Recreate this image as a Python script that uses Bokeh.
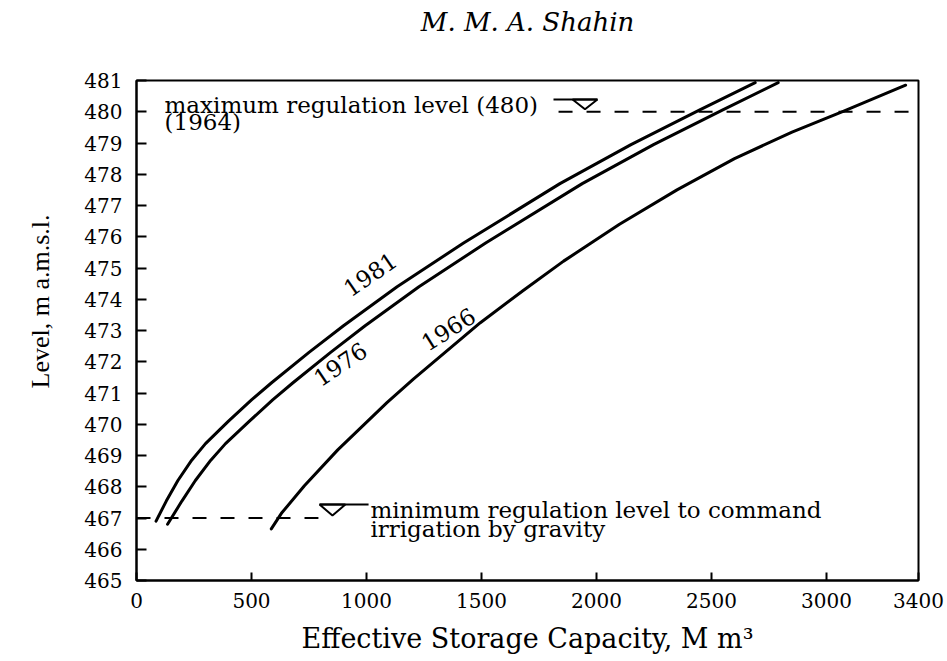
from bokeh.plotting import figure
from bokeh.models import FixedTicker, Label, Range1d, Title
from bokeh.embed import file_html
from bokeh.resources import INLINE

# Level-capacity curves of the reservoir (capacity in M m3, level in m a.m.s.l.)
cap_1981 = [85, 130, 180, 240, 300, 400, 500, 586, 750, 900, 1133, 1422, 1841, 2150, 2447, 2690]
lvl_1981 = [466.9, 467.55, 468.2, 468.85, 469.38, 470.1, 470.78, 471.32, 472.3, 473.15, 474.4, 475.8, 477.7, 478.95, 480.05, 480.93]

cap_1976 = [135, 198, 256, 323, 387, 491, 592, 679, 844, 994, 1228, 1518, 1938, 2248, 2547, 2790]
lvl_1976 = [466.8, 467.55, 468.2, 468.85, 469.38, 470.1, 470.78, 471.32, 472.3, 473.15, 474.4, 475.8, 477.7, 478.95, 480.05, 480.93]

cap_1966 = [586, 630, 730, 875, 1090, 1205, 1495, 1680, 1857, 2100, 2350, 2600, 2850, 3075, 3344]
lvl_1966 = [466.65, 467.15, 468.03, 469.18, 470.7, 471.45, 473.25, 474.27, 475.22, 476.4, 477.5, 478.5, 479.35, 480.02, 480.85]

x_ticks = [0, 500, 1000, 1500, 2000, 2500, 3000, 3400]
y_ticks = list(range(465, 482))

max_level = 480   # maximum regulation level
min_level = 467   # minimum regulation level for gravity irrigation

X_MAX = 3400
Y_MIN, Y_MAX = 465, 481

SERIF = "DejaVu Serif"
TIMES = "Liberation Serif"

p = figure(
    width=947, height=661,
    x_range=Range1d(0, X_MAX), y_range=Range1d(Y_MIN, Y_MAX),
    output_backend="svg", toolbar_location=None,
    min_border_left=136, min_border_right=29,
    min_border_top=80, min_border_bottom=81,
)
p.background_fill_color = "white"
p.border_fill_color = "white"
p.xgrid.visible = False
p.ygrid.visible = False
p.outline_line_color = "black"
p.outline_line_width = 2

# x axis
xa = p.xaxis[0]
xa.ticker = FixedTicker(ticks=x_ticks)
xa.axis_label = "Effective Storage Capacity, M m\u00b3"
xa.axis_label_text_font = SERIF
xa.axis_label_text_font_size = "27px"
xa.axis_label_text_font_style = "normal"
xa.axis_label_text_color = "black"
xa.axis_label_standoff = 12

# y axis
ya = p.yaxis[0]
ya.ticker = FixedTicker(ticks=y_ticks)

for ax in (xa, ya):
    ax.axis_line_color = "black"
    ax.axis_line_width = 2
    ax.major_tick_line_color = "black"
    ax.major_tick_line_width = 2
    ax.major_tick_out = 0
    ax.minor_tick_line_color = None
    ax.major_label_text_font = SERIF
    ax.major_label_text_font_size = "20px"
    ax.major_label_text_color = "black"

xa.major_tick_in = 8
xa.major_label_standoff = 12
ya.major_tick_in = 10
ya.major_label_standoff = 14

# y axis title, placed as a side title so it can sit off-centre
p.add_layout(Title(text="Level, m a.m.s.l.", align="left", offset=192,
                   vertical_align="top",
                   text_font=TIMES, text_font_size="26px", text_font_style="normal",
                   text_color="black", standoff=50), "left")

# page heading, lifted to the top edge by a blank spacer title below it
p.add_layout(Title(text=" ", text_font_size="10px", standoff=25), "above")
p.add_layout(Title(text="M. M. A. Shahin", align="center", vertical_align="top",
                   text_font=SERIF, text_font_size="26px", text_font_style="italic",
                   text_color="black", standoff=8), "above")

# curves
for cap, lvl in ((cap_1981, lvl_1981), (cap_1976, lvl_1976), (cap_1966, lvl_1966)):
    p.line(cap, lvl, line_color="black", line_width=3, line_join="round", line_cap="round")

# regulation levels
max_dash_start = 1835
min_dash_end = 791
p.line([max_dash_start, X_MAX], [max_level, max_level], line_color="black",
       line_width=2, line_dash="14 14")
p.line([0, min_dash_end], [min_level, min_level], line_color="black",
       line_width=2, line_dash="14 14")

# water-level symbols (flat inverted triangle with a leader line)
def water_symbol(xc, level, half_w, top_off, apex_off, lead_from, lead_to):
    top = level + top_off
    apex = level + apex_off
    p.patch([xc - half_w, xc + half_w, xc], [top, top, apex],
            fill_color="white", line_color="black", line_width=2)
    p.line([lead_from, lead_to], [top, top], line_color="black", line_width=2)

water_symbol(1950, max_level, 54, 0.39, 0.08, 1813, 2004)
water_symbol(852, min_level, 56, 0.43, 0.08, 796, 1009)

# texts inside the frame
def add_label(x, y, text, size, font=SERIF, angle=0.0, align="left",
              baseline="alphabetic"):
    p.add_layout(Label(x=x, y=y, text=text, angle=angle,
                       text_font=font, text_font_size=size,
                       text_align=align, text_baseline=baseline, text_color="black"))

add_label(122, 480.23, "maximum regulation level (480)", "23px")
add_label(122, 479.66, "(1964)", "23px")
add_label(1017, 467.27, "minimum regulation level to command", "23px")
add_label(1017, 466.66, "irrigation by gravity", "23px")

add_label(1017, 474.79, "1981", "23px", angle=0.60, align="center", baseline="middle")
add_label(887, 471.91, "1976", "23px", angle=0.59, align="center", baseline="middle")
add_label(1357, 473.03, "1966", "23px", angle=0.56, align="center", baseline="middle")

open("out.html", "w").write(file_html(p, INLINE))
